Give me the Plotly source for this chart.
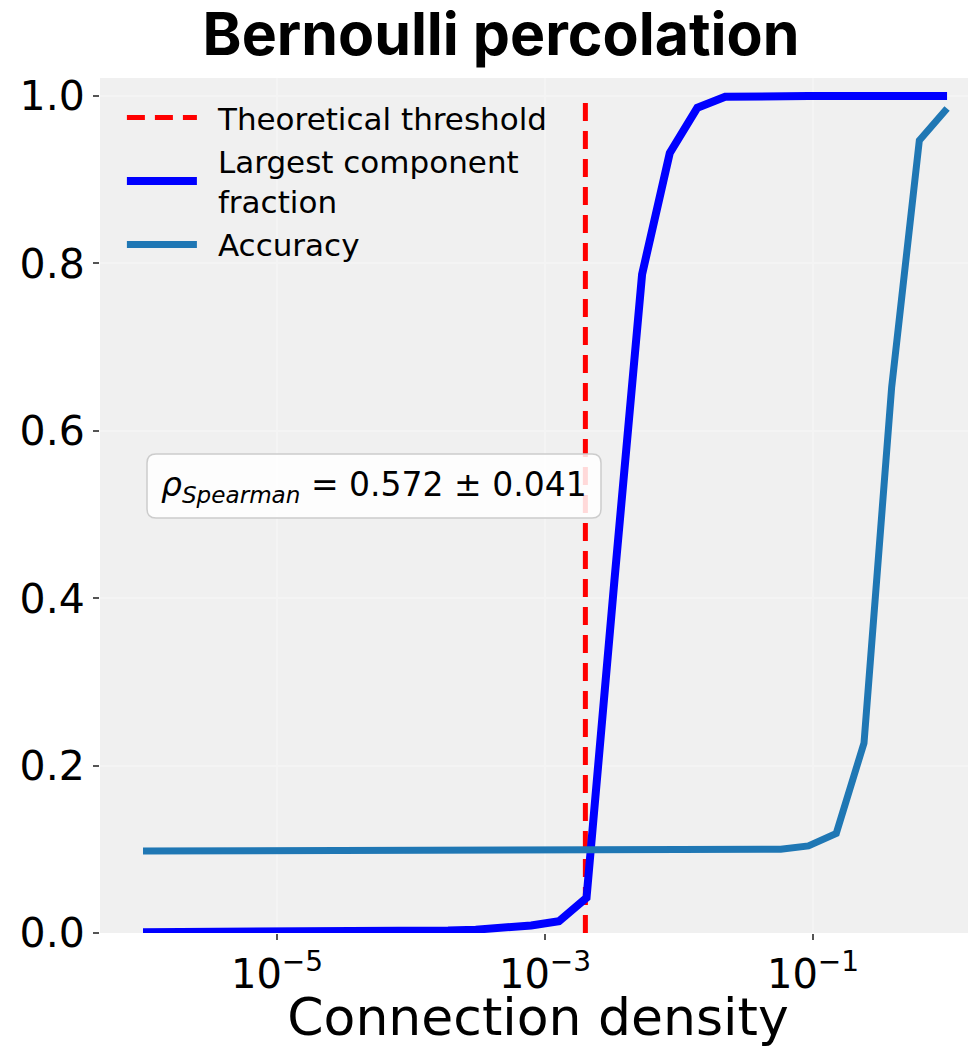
import plotly.graph_objects as go

# connection density grid (30 log-spaced values, 1e-6 .. 1)
density = [1.00e-6, 1.61e-6, 2.59e-6, 4.18e-6, 6.72e-6, 1.08e-5, 1.74e-5, 2.81e-5,
           4.52e-5, 7.28e-5, 1.17e-4, 1.89e-4, 3.04e-4, 4.89e-4, 7.88e-4, 1.27e-3,
           2.04e-3, 3.29e-3, 5.30e-3, 8.53e-3, 1.37e-2, 2.21e-2, 3.56e-2, 5.74e-2,
           9.24e-2, 0.149, 0.240, 0.386, 0.621, 1.0]

largest_component = [0.001, 0.001, 0.001, 0.001, 0.001, 0.001, 0.0015, 0.0015,
                     0.0015, 0.0015, 0.002, 0.003, 0.004, 0.006, 0.009, 0.014,
                     0.042, 0.42, 0.787, 0.932, 0.986, 0.999, 1.0, 1.0,
                     1.0, 1.0, 1.0, 1.0, 1.0, 1.0]

accuracy = [0.098, 0.098, 0.098, 0.098, 0.098, 0.098, 0.098, 0.098,
            0.098, 0.098, 0.098, 0.098, 0.098, 0.098, 0.098, 0.098,
            0.098, 0.098, 0.098, 0.098, 0.098, 0.0985, 0.099, 0.100,
            0.104, 0.119, 0.227, 0.652, 0.947, 0.985]

threshold = 0.002
x_tickvals = [1e-5, 1e-3, 1e-1]
x_ticktext = ['10<sup>\u22125</sup>', '10<sup>\u22123</sup>', '10<sup>\u22121</sup>']
y_tickvals = [0.0, 0.2, 0.4, 0.6, 0.8, 1.0]
spearman_text = '<i>\u03c1</i><sub><i>Spearman</i></sub> = 0.572 \u00b1 0.041'

# page body adds an 8px margin, so the figure is 8px smaller than the window
W, H = 968, 1039
ML, MR, MT, MB = 92, 0, 70, 114
pw, ph = W - ML - MR, H - MT - MB
pad = '\u00a0\u2009'  # gap between legend symbol and label

fig = go.Figure()
fig.add_trace(go.Scatter(x=[threshold, threshold], y=[0, 1], mode='lines',
                         line=dict(color='#ff0000', width=5, dash='18px,10px'),
                         name=pad + 'Theoretical threshold'))
fig.add_trace(go.Scatter(x=density, y=largest_component, mode='lines',
                         line=dict(color='#0000ff', width=8),
                         name=pad + 'Largest component<br>' + pad + 'fraction'))
fig.add_trace(go.Scatter(x=density, y=accuracy, mode='lines',
                         line=dict(color='#1f77b4', width=7),
                         name=pad + 'Accuracy'))

# rounded box behind the correlation text (paper coords)
def rounded_box(x0, y0, x1, y1, r):
    rx, ry = r / pw, r / ph
    return (f'M{x0+rx},{y0} L{x1-rx},{y0} Q{x1},{y0} {x1},{y0+ry} '
            f'L{x1},{y1-ry} Q{x1},{y1} {x1-rx},{y1} L{x0+rx},{y1} '
            f'Q{x0},{y1} {x0},{y1-ry} L{x0},{y0+ry} Q{x0},{y0} {x0+rx},{y0} Z')

bx0, bx1 = 47 / pw, 501 / pw
by0, by1 = (933 - 518) / ph, (933 - 454) / ph
fig.add_shape(type='path', xref='paper', yref='paper', layer='above',
              path=rounded_box(bx0, by0, bx1, by1, 9),
              fillcolor='rgba(255,255,255,0.85)', line=dict(color='#cccccc', width=1.5))
fig.add_annotation(xref='paper', yref='paper', x=(bx0 + bx1) / 2, y=(by0 + by1) / 2,
                   xanchor='center', yanchor='middle',
                   text=spearman_text, showarrow=False,
                   font=dict(family='DejaVu Sans', size=33, color='black'))

fig.update_layout(
    width=W, height=H,
    margin=dict(l=ML, r=MR, t=MT, b=MB),
    paper_bgcolor='white', plot_bgcolor='#f0f0f0',
    font=dict(family='DejaVu Sans', color='black'),
    title=dict(text='<b>Bernoulli percolation</b>', x=493 / W, xanchor='center',
               y=1 - 26 / H, yanchor='middle',
               font=dict(family='Inter', size=59, weight=800, color='black')),
    legend=dict(x=0.025, y=0.985, xanchor='left', yanchor='top',
                bgcolor='rgba(0,0,0,0)', font=dict(size=31), itemwidth=70,
                tracegroupgap=0),
    showlegend=True,
)
fig.update_xaxes(type='log', range=[-6.321, 0.216], tickvals=x_tickvals, ticktext=x_ticktext,
                 ticks='outside', ticklen=6, tickcolor='#555555', tickwidth=1.5,
                 tickfont=dict(size=40), showgrid=True, gridcolor='#f4f4f4', gridwidth=1.5,
                 zeroline=False, showline=False, automargin=False,
                 title=dict(text='Connection density', font=dict(size=52), standoff=4))
fig.update_yaxes(range=[0, 1.0215], tickvals=y_tickvals, tickformat='.1f',
                 ticks='outside', ticklen=6, tickcolor='#555555', tickwidth=1.5,
                 tickfont=dict(size=41), showgrid=True, gridcolor='#f4f4f4', gridwidth=1.5,
                 zeroline=False, showline=False, automargin=False)

fig.write_html('out.html')
